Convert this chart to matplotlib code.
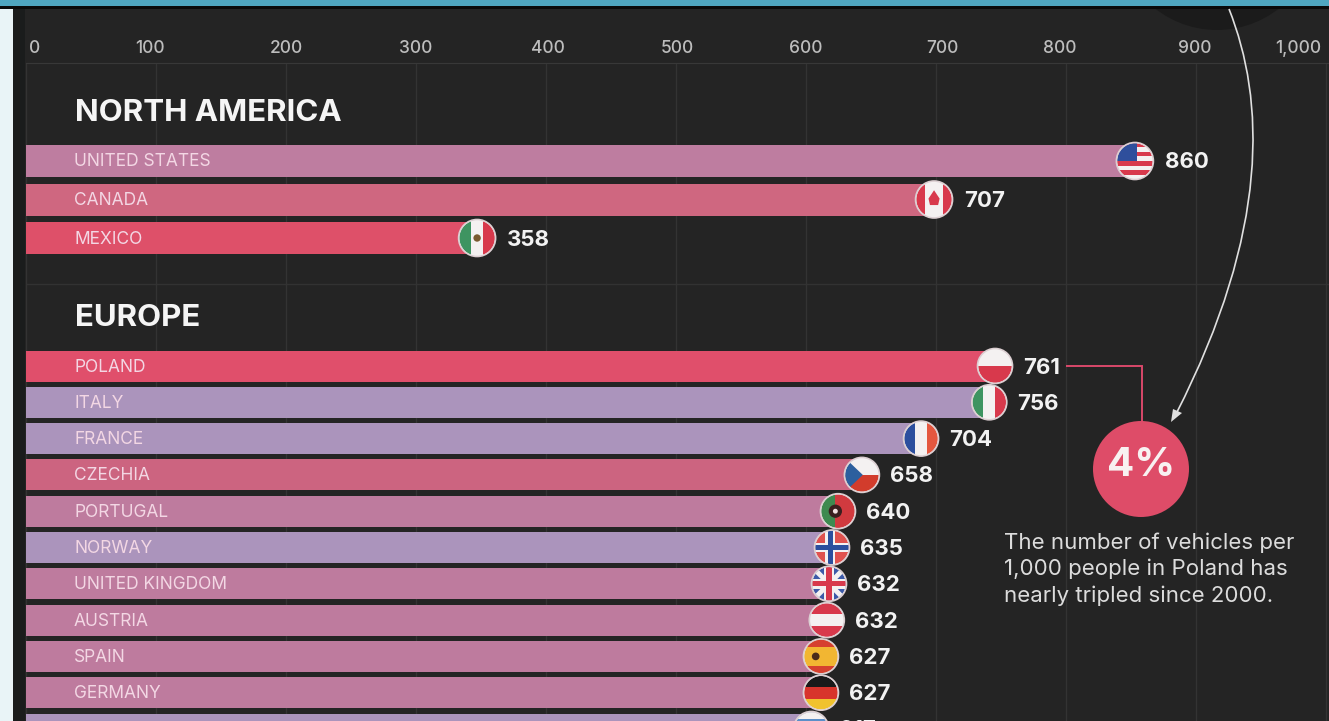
import matplotlib
matplotlib.use("Agg")
import matplotlib.pyplot as plt
from matplotlib.patches import Circle, Rectangle, Polygon, PathPatch
from matplotlib.path import Path
from matplotlib.transforms import Affine2D, ScaledTranslation

W, H = 1329, 721
plt.rcParams['font.family'] = ['Inter', 'DejaVu Sans']

# ---- data ----
tick_values = [0, 100, 200, 300, 400, 500, 600, 700, 800, 900, 1000]
tick_labels = ['0', '100', '200', '300', '400', '500', '600', '700', '800', '900', '1,000']

na_names = ['UNITED STATES', 'CANADA', 'MEXICO']
na_values = [860, 707, 358]
na_lengths = [853, 698.5, 347]
na_colors = ['#BE7DA0', '#CF6780', '#DE5069']
na_flags = ['us', 'ca', 'mx']

eu_names = ['POLAND', 'ITALY', 'FRANCE', 'CZECHIA', 'PORTUGAL', 'NORWAY',
            'UNITED KINGDOM', 'AUSTRIA', 'SPAIN', 'GERMANY', 'GREECE']
eu_values = [761, 756, 704, 658, 640, 635, 632, 632, 627, 627, 617]
eu_lengths = [745.4, 741, 688.5, 643, 624.6, 620, 617.7, 616, 611.5, 611.5, 604]
eu_colors = ['#E04F6B', '#AB94BC', '#AB94BC', '#CC6480', '#BE7B9E', '#AB94BC',
             '#BE7B9E', '#BE7B9E', '#BE7B9E', '#BE7B9E', '#AB94BC']
eu_flags = ['pl', 'it', 'fr', 'cz', 'pt', 'no', 'gb', 'at', 'es', 'de', 'gr']

note_lines = ['The number of vehicles per', '1,000 people in Poland has', 'nearly tripled since 2000.']

# ---- page ----
fig = plt.figure(figsize=(W / 100, H / 100), dpi=100, facecolor='#242424')
PX = Affine2D().scale(1, -1).translate(0, H)   # annotation layer in image pixels


def page_rect(x0, y0, x1, y1, color, z):
    fig.add_artist(Rectangle((x0, y0), x1 - x0, y1 - y0, transform=PX, fc=color, ec='none', zorder=z))


page_rect(0, 0, 13, H, '#E9F4F7', -5)
page_rect(13, 0, 25, H, '#1A1C1C', -5)

ax = fig.add_axes([26 / W, 0, (W - 26) / W, (H - 63) / H])
ax.set_facecolor('none')
ax.set_xlim(0, (W - 26) / 1.3)
ax.set_ylim(721, 63)
ax.xaxis.tick_top()
ax.set_xticks(tick_values, tick_labels)
ax.set_yticks([])
ax.tick_params(axis='x', length=0, pad=4.5, labelsize=12.5, labelcolor='#BDBDBD')
ax.grid(axis='x', color='#333333', lw=1)
ax.set_axisbelow(True)
for s in ['left', 'right', 'bottom']:
    ax.spines[s].set_visible(False)
ax.spines['top'].set_color('#383838')
ax.axhline(284, color='#323232', lw=1, zorder=0)

label_shift = [9, -6, 0, 0, 2, 1, 0, 6, -6, -1, -28]
for lab, dx in zip(ax.get_xticklabels(), label_shift):
    lab.set_transform(lab.get_transform() + Affine2D().translate(dx, 0))
    lab.set_fontweight('medium')

RED, WHITE, BLUE, GREEN = '#D8394C', '#F4F1F1', '#2C4F9E', '#3E9461'


def stripes_h(*cols):
    n = len(cols)
    return [('r', -1, 1 - 2 * (i + 1) / n, 1, 1 - 2 * i / n, c) for i, c in enumerate(cols)]


def stripes_v(*cols):
    n = len(cols)
    return [('r', -1 + 2 * i / n, -1, -1 + 2 * (i + 1) / n, 1, c) for i, c in enumerate(cols)]


def cross(hw, col, cx=0.0):
    return [('r', cx - hw, -1, cx + hw, 1, col), ('r', -1, -hw, 1, hw, col)]


FLAGS = {
    'us': stripes_h(*[RED, WHITE] * 4) + [('r', -1, 0, 0.1, 1, '#2F4F9C')],
    'ca': stripes_v(RED, WHITE, WHITE, RED) + [('p', [(0, .5), (.3, .05), (.22, -.3), (-.22, -.3), (-.3, .05)], RED)],
    'mx': stripes_v(GREEN, WHITE, RED) + [('c', 0, 0, .2, '#7A5A30')],
    'pl': stripes_h(WHITE, RED),
    'it': stripes_v(GREEN, WHITE, RED),
    'fr': stripes_v(BLUE, WHITE, '#E4573F'),
    'cz': stripes_h(WHITE, '#D23C2C') + [('p', [(-1, 1), (.05, 0), (-1, -1)], '#2C5F9E')],
    'pt': [('r', -1, -1, -.15, 1, '#3E8A50'), ('r', -.15, -1, 1, 1, '#D13A3F'),
           ('c', -.15, 0, .38, '#3A1F1F'), ('c', -.15, 0, .14, '#F0E0E0')],
    'no': [('r', -1, -1, 1, 1, '#E0524F')] + cross(.28, WHITE, -.1) + cross(.13, '#2C4F9E', -.1),
    'gb': [('r', -1, -1, 1, 1, '#3D5AA8'),
           ('p', [(-1, -.8), (-.8, -1), (1, .8), (.8, 1)], WHITE),
           ('p', [(-1, .8), (-.8, 1), (1, -.8), (.8, -1)], WHITE)] + cross(.3, WHITE) + cross(.15, '#D8394C'),
    'at': stripes_h(RED, WHITE, RED),
    'es': [('r', -1, -1, 1, 1, '#F2B632'), ('r', -1, .55, 1, 1, '#D6402F'), ('r', -1, -1, 1, -.55, '#D6402F'),
           ('c', -.3, 0, .22, '#4A2A1A')],
    'de': stripes_h('#1A1A1A', '#D8342C', '#F0C22E'),
    'gr': [('r', -1, -1, 1, 1, '#5B8FC9')] + stripes_h(WHITE, '#8FB6DD', WHITE, '#8FB6DD', WHITE)[::2],
}


def draw_flag(code, value, y, r):
    tr = Affine2D().scale(r) + ScaledTranslation(value, y, ax.transData)
    ax.add_patch(Circle((0, 0), 1, transform=tr, fc='white', ec='none', zorder=5, clip_on=False))
    for sh in FLAGS[code]:
        if sh[0] == 'r':
            a = Rectangle((sh[1], sh[2]), sh[3] - sh[1], sh[4] - sh[2], fc=sh[5], ec='none', transform=tr, zorder=6)
        elif sh[0] == 'p':
            a = Polygon(sh[1], closed=True, fc=sh[2], ec='none', transform=tr, zorder=6)
        else:
            a = Circle((sh[1], sh[2]), sh[3], fc=sh[4], ec='none', transform=tr, zorder=6)
        ax.add_patch(a)
        a.set_clip_path(Circle((0, 0), .96, transform=tr))
    ax.add_patch(Circle((0, 0), 1, transform=tr, fc='none', ec='#DCCFD2', lw=1.2, zorder=7, clip_on=False))


def draw_group(names, values, lengths, colors, flags, y0, pitch, height, r, offs):
    ys = [y0 + i * pitch for i in range(len(names))]
    ax.barh(ys, lengths, height=height, color=colors, zorder=2, left=0)
    for n, v, l, f, y in zip(names, values, lengths, flags, ys):
        ax.annotate(n, (0, y), xytext=(48, -1), textcoords='offset pixels', va='center', ha='left',
                    color='#F3D7E4', fontsize=12.5, zorder=4)
        draw_flag(f, l, y, r)
        ax.annotate(str(v), (l, y), xytext=(offs, -1.5), textcoords='offset pixels', va='center', ha='left',
                    color='#F2F2F2', fontsize=16, fontweight='bold', zorder=8, annotation_clip=False)


draw_group(na_names, na_values, na_lengths, na_colors, na_flags, 161, 38.5, 32, 18.5, 30)
draw_group(eu_names, eu_values, eu_lengths, eu_colors, eu_flags, 366, 36.3, 31, 17.5, 28)

ax.text(37.7, 113, 'NORTH AMERICA', color='#F5F5F5', fontsize=22.5, fontweight='bold', va='center')
ax.text(37.7, 318, 'EUROPE', color='#F5F5F5', fontsize=22.5, fontweight='bold', va='center')

# ---- annotation layer ----
fig.add_artist(Circle((1217, -70), 100, transform=PX, fc='#1B1B1B', ec='none', zorder=1))
page_rect(0, 0, W, 6, '#4FA6C0', 2)
page_rect(0, 6, W, 9, '#0A0A0A', 2)

arc = Path([(1229, 9), (1265, 100), (1270, 230), (1176, 414)], [Path.MOVETO, Path.CURVE4, Path.CURVE4, Path.CURVE4])
fig.add_artist(PathPatch(arc, transform=PX, fc='none', ec='#E0E0E0', lw=1.2, zorder=3))
fig.add_artist(Polygon([(1171, 422), (1173, 409), (1182, 413)], transform=PX, fc='#E0E0E0', ec='none', zorder=3))

elbow = Path([(1066, 366), (1142, 366), (1142, 425)])
fig.add_artist(PathPatch(elbow, transform=PX, fc='none', ec='#D9486A', lw=1.4, zorder=3))
fig.add_artist(Circle((1141, 469), 48, transform=PX, fc='#DE4C68', ec='none', zorder=4))
fig.text(1141 / W, 1 - 466 / H, '4%', color='#F8F1F1', fontsize=29, fontweight='bold', ha='center', va='center', zorder=5)
for line, y in zip(note_lines, [543, 569, 596]):
    fig.text(1004 / W, 1 - y / H, line, color='#DCDCDC', fontsize=16, ha='left', va='center', zorder=5)

fig.savefig('out.png', dpi=100, facecolor=fig.get_facecolor())
